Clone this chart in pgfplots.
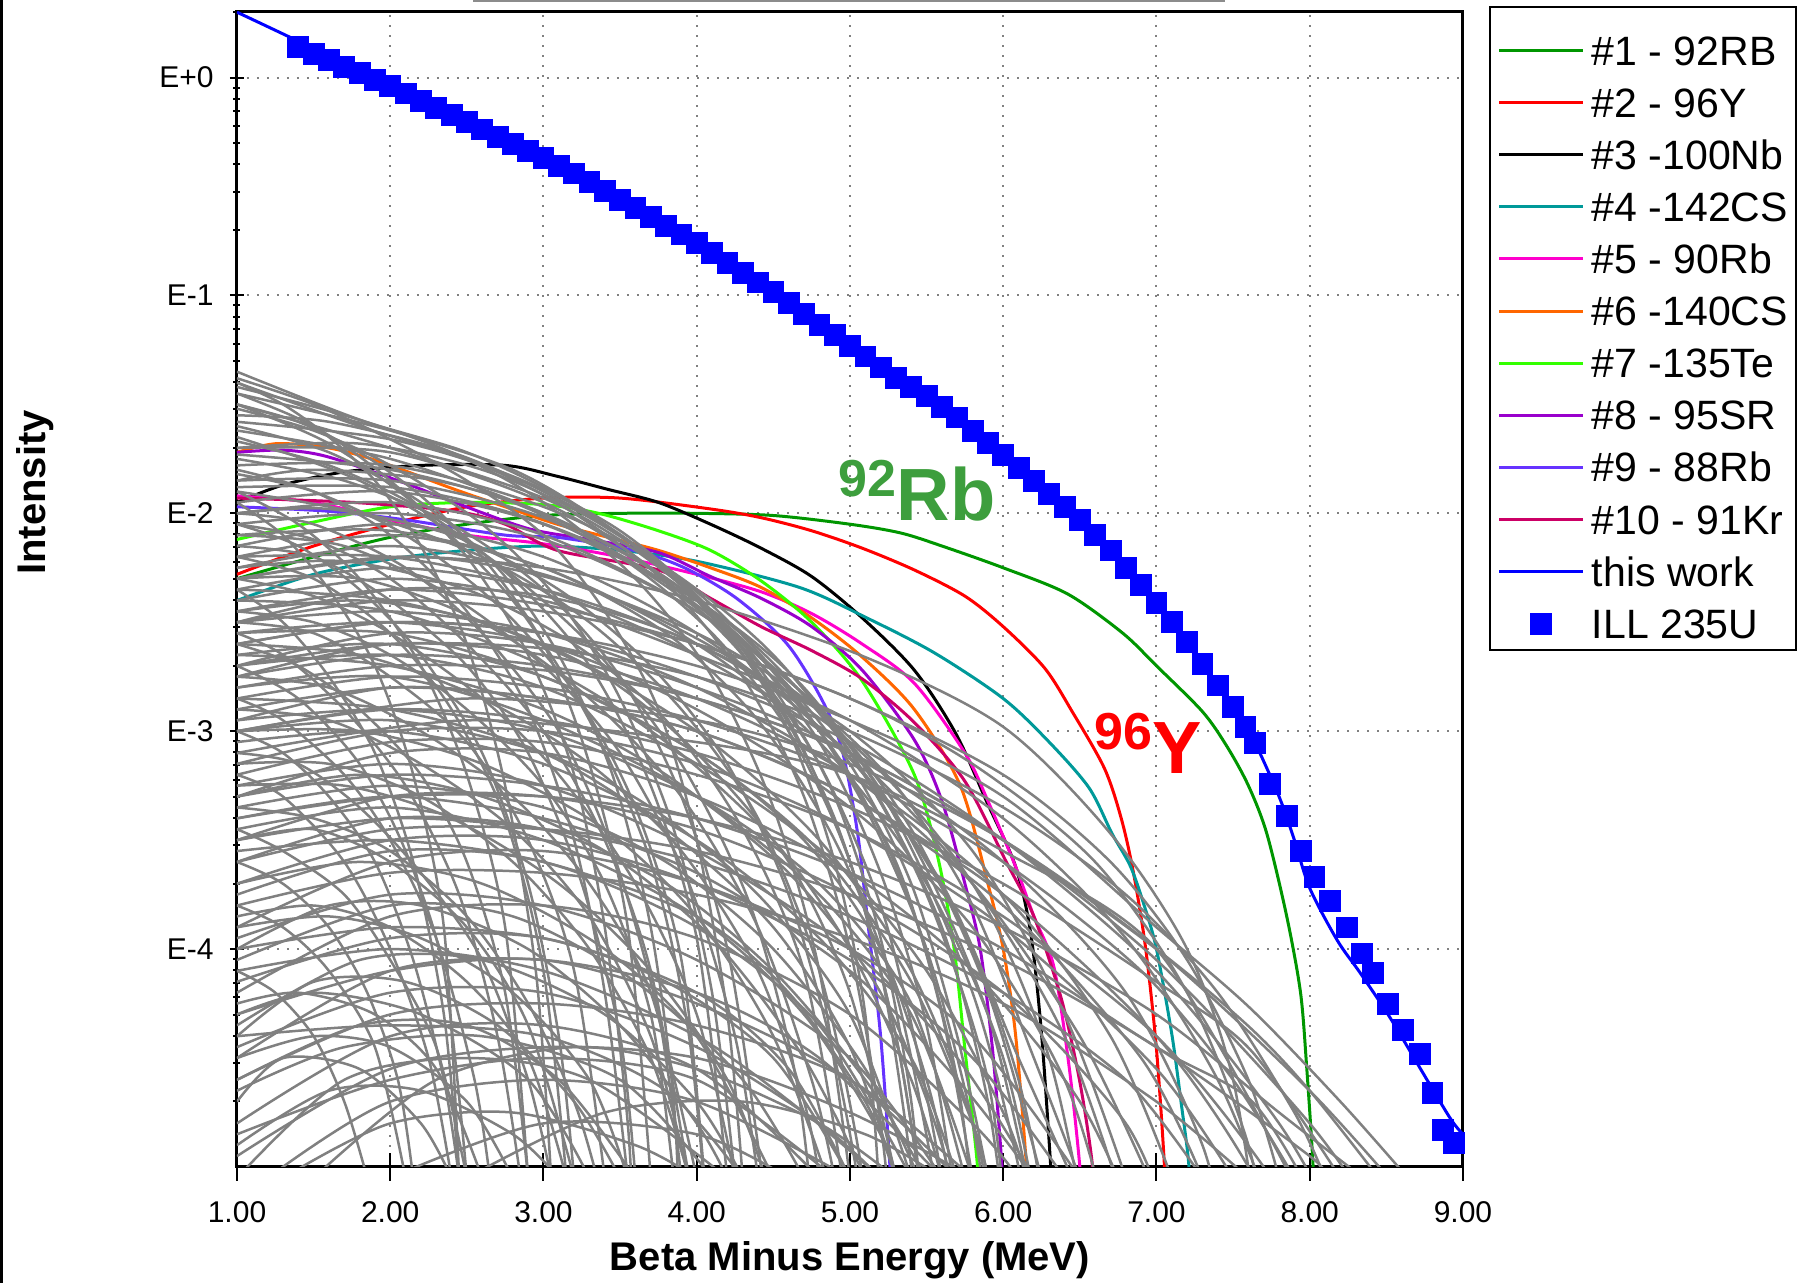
\documentclass[border=0pt]{standalone}
\usepackage{pgfplots}
\pgfplotsset{compat=1.18}
\usepackage{fontspec}
\setmainfont{Liberation Sans}
\definecolor{c1}{RGB}{0,150,0}
\definecolor{c2}{RGB}{255,0,0}
\definecolor{c3}{RGB}{0,0,0}
\definecolor{c4}{RGB}{0,153,153}
\definecolor{c5}{RGB}{255,0,204}
\definecolor{c6}{RGB}{255,102,0}
\definecolor{c7}{RGB}{51,255,0}
\definecolor{c8}{RGB}{153,0,204}
\definecolor{c9}{RGB}{102,51,255}
\definecolor{c10}{RGB}{204,0,102}
\definecolor{rbgreen}{RGB}{61,158,61}
\definecolor{gline}{RGB}{128,128,128}
\definecolor{ublue}{RGB}{0,0,255}
% y values are log10(intensity): the axis labels E+0, E-1, ... are the exponents
\pgfplotsset{
  gr/.style={color=gline, line width=1.25pt, smooth, tension=0.5, forget plot},
  cl/.style={line width=1.5pt, smooth, tension=0.5},
  illleg/.style={legend image code/.code={\draw[##1, mark size=5pt] plot coordinates {(21pt,-4.2pt)};}},
}
\newcommand{\g}[1]{\addplot[gr] coordinates {#1};}
\begin{document}
\begin{tikzpicture}
\path[use as bounding box] (-118.5pt,-58pt) rectangle (784.5pt,583.5pt);
\draw[line width=1.5pt] (-117.5pt,-58pt) -- (-117.5pt,583.5pt);
\draw[line width=1pt, black!45] (118pt,583pt) -- (494pt,583pt);
\begin{axis}[
  scale only axis, width=613pt, height=577.5pt,
  xmin=1, xmax=9, ymin=-5, ymax=0.30103,
  xtick={1,2,3,4,5,6,7,8,9},
  xticklabels={1.00,2.00,3.00,4.00,5.00,6.00,7.00,8.00,9.00},
  ytick={0,-1,-2,-3,-4},
  yticklabels={E+0,E-1,E-2,E-3,E-4},
  minor ytick={-4.699,-4.523,-4.398,-4.301,-4.222,-4.155,-4.097,-4.046,
    -3.699,-3.523,-3.398,-3.301,-3.222,-3.155,-3.097,-3.046,
    -2.699,-2.523,-2.398,-2.301,-2.222,-2.155,-2.097,-2.046,
    -1.699,-1.523,-1.398,-1.301,-1.222,-1.155,-1.097,-1.046,
    -0.699,-0.523,-0.398,-0.301,-0.222,-0.155,-0.097,-0.046,0.301},
  tick pos=left, tick align=center,
  major tick length=7pt, minor tick length=3.5pt,
  xtick style={/pgfplots/major tick length=14pt},
  tick style={black, line width=1pt},
  axis line style={line width=1.5pt},
  xmajorgrids, ymajorgrids,
  grid style={black!50, line width=1pt, dash pattern=on 1pt off 4pt},
  ticklabel style={font=\fontsize{15}{15}\selectfont},
  xticklabel style={anchor=base, yshift=-24.5pt},
  yticklabel style={anchor=east, xshift=-8pt, inner sep=0pt},
  xlabel={Beta Minus Energy (MeV)},
  ylabel={Intensity},
  xlabel style={at={(axis description cs:0.5,-0.0892)}, anchor=base, font=\bfseries\fontsize{20}{20}\selectfont},
  ylabel style={at={(axis description cs:-0.1558,0.584)}, anchor=base, font=\bfseries\fontsize{20}{20}\selectfont},
  legend style={at={(1.0212,1.0049)}, anchor=north west, draw=black, line width=1pt, fill=white,
    inner xsep=4pt, inner ysep=4.4pt, row sep=0pt, column sep=3.5pt,
    font=\fontsize{20.5}{20.5}\selectfont,
    nodes={inner sep=0pt, text height=24.5pt, text depth=1.55pt}},
  legend cell align=left,
  legend image code/.code={\draw[#1] (0pt,-4.2pt) -- (42pt,-4.2pt);},
]
% ---- ten main contributors
\addplot[cl, c1] coordinates {(1.0,-2.30) (1.5,-2.20) (2.0,-2.11) (2.5,-2.05) (3.0,-2.01) (3.5,-2.0) (4.0,-2.0) (4.5,-2.01) (5.0,-2.05) (5.33,-2.09) (5.6,-2.15) (6.0,-2.25) (6.42,-2.37) (6.78,-2.55) (7.0,-2.70) (7.3,-2.91) (7.46,-3.07) (7.6,-3.25) (7.72,-3.47) (7.85,-3.85) (7.94,-4.20) (7.98,-4.54) (8.02,-4.97) (8.03,-5.2)};
\addlegendentry{\#1 - 92RB}
\addplot[cl, c2] coordinates {(1.0,-2.28) (1.5,-2.15) (2.0,-2.05) (2.5,-1.97) (3.0,-1.93) (3.5,-1.93) (4.09,-1.98) (4.42,-2.02) (4.75,-2.08) (5.08,-2.16) (5.42,-2.26) (5.75,-2.38) (6.0,-2.52) (6.27,-2.71) (6.45,-2.91) (6.66,-3.17) (6.77,-3.40) (6.85,-3.65) (6.93,-4.0) (7.0,-4.46) (7.05,-4.97) (7.06,-5.2)};
\addlegendentry{\#2 - 96Y}
\addplot[cl, c3] coordinates {(1.0,-1.95) (1.3,-1.87) (1.7,-1.81) (2.2,-1.78) (2.75,-1.78) (3.09,-1.83) (3.42,-1.89) (3.75,-1.95) (4.09,-2.05) (4.42,-2.16) (4.75,-2.29) (5.08,-2.48) (5.42,-2.72) (5.69,-3.01) (5.89,-3.32) (6.08,-3.62) (6.18,-3.93) (6.25,-4.39) (6.31,-5.0) (6.32,-5.2)};
\addlegendentry{\#3 -100Nb}
\addplot[cl, c4] coordinates {(1.0,-2.40) (1.5,-2.28) (2.0,-2.21) (2.5,-2.17) (3.0,-2.15) (3.5,-2.17) (4.0,-2.22) (4.67,-2.34) (5.11,-2.48) (5.55,-2.64) (6.0,-2.85) (6.3,-3.05) (6.56,-3.26) (6.71,-3.47) (6.83,-3.62) (6.92,-3.8) (7.0,-4.0) (7.10,-4.39) (7.16,-4.7) (7.21,-4.98) (7.22,-5.2)};
\addlegendentry{\#4 -142CS}
\addplot[cl, c5] coordinates {(1.0,-1.92) (1.5,-1.95) (2.0,-2.03) (2.5,-2.10) (3.0,-2.14) (3.5,-2.20) (4.0,-2.28) (4.42,-2.36) (4.75,-2.46) (5.08,-2.60) (5.42,-2.78) (5.75,-3.10) (5.9,-3.32) (6.08,-3.62) (6.2,-3.85) (6.33,-4.08) (6.43,-4.54) (6.50,-5.0) (6.51,-5.2)};
\addlegendentry{\#5 - 90Rb}
\addplot[cl, c6] coordinates {(1.0,-1.72) (1.26,-1.68) (1.6,-1.70) (1.92,-1.76) (2.42,-1.89) (2.75,-1.97) (3.09,-2.05) (3.42,-2.11) (3.75,-2.17) (4.09,-2.25) (4.42,-2.34) (4.75,-2.48) (5.08,-2.66) (5.42,-2.90) (5.72,-3.25) (5.90,-3.70) (6.0,-4.0) (6.08,-4.39) (6.15,-4.98) (6.16,-5.2)};
\addlegendentry{\#6 -140CS}
\addplot[cl, c7] coordinates {(1.0,-2.12) (1.5,-2.04) (2.0,-1.97) (2.5,-1.95) (3.0,-1.96) (3.36,-2.0) (3.75,-2.08) (4.09,-2.17) (4.42,-2.31) (4.75,-2.50) (5.08,-2.77) (5.42,-3.2) (5.58,-3.6) (5.68,-4.0) (5.75,-4.46) (5.83,-4.98) (5.84,-5.2)};
\addlegendentry{\#7 -135Te}
\addplot[cl, c8] coordinates {(1.0,-1.72) (1.3,-1.71) (1.59,-1.74) (2.09,-1.86) (2.42,-1.95) (2.9,-2.07) (3.3,-2.12) (3.75,-2.18) (4.09,-2.29) (4.42,-2.39) (4.75,-2.52) (5.08,-2.72) (5.42,-3.04) (5.6,-3.32) (5.75,-3.70) (5.85,-4.0) (5.93,-4.46) (5.99,-4.98) (6.0,-5.2)};
\addlegendentry{\#8 - 95SR}
\addplot[cl, c9] coordinates {(1.0,-1.97) (1.59,-1.99) (2.1,-2.03) (2.75,-2.10) (3.09,-2.11) (3.59,-2.17) (3.92,-2.25) (4.26,-2.39) (4.59,-2.60) (4.82,-2.86) (4.95,-3.09) (5.05,-3.47) (5.12,-3.9) (5.2,-4.4) (5.26,-4.99) (5.27,-5.2)};
\addlegendentry{\#9 - 88Rb}
\addplot[cl, c10] coordinates {(1.0,-1.93) (1.76,-1.95) (2.42,-1.99) (2.75,-2.05) (3.09,-2.17) (3.75,-2.26) (4.09,-2.39) (4.42,-2.52) (4.75,-2.63) (5.08,-2.76) (5.42,-2.96) (5.75,-3.23) (6.02,-3.6) (6.2,-3.85) (6.38,-4.23) (6.50,-4.61) (6.58,-4.98) (6.59,-5.2)};
\addlegendentry{\#10 - 91Kr}
% ---- all other fission products (grey)
\g{(1,-1.35) (1.8,-1.57) (2.5,-1.72) (3.1,-1.92) (3.7,-2.2) (4.2,-2.55) (4.6,-3.0) (4.9,-3.6) (5.1,-4.3) (5.2,-5.2)}
\g{(1,-1.40) (1.8,-1.60) (2.6,-1.78) (3.2,-2.0) (3.8,-2.32) (4.3,-2.75) (4.7,-3.3) (5.0,-4.0) (5.2,-4.8) (5.3,-5.5)}
\g{(1,-1.45) (2,-1.62) (2.8,-1.80) (3.4,-2.05) (4.0,-2.4) (4.5,-2.85) (4.9,-3.4) (5.2,-4.1) (5.4,-5.0) (5.45,-5.5)}
\g{(1,-1.50) (2,-1.70) (3,-1.93) (3.6,-2.17) (4.2,-2.52) (4.8,-3.05) (5.2,-3.65) (5.5,-4.35) (5.7,-5.2)}
\g{(1,-1.55) (1.6,-1.58) (2.4,-1.72) (3.0,-1.90) (3.5,-2.1) (4.0,-2.38) (4.5,-2.8) (4.9,-3.3) (5.2,-3.95) (5.4,-4.7) (5.5,-5.5)}
\g{(1,-1.62) (2,-1.75) (3,-2.0) (3.8,-2.3) (4.4,-2.65) (5.0,-3.2) (5.4,-3.8) (5.7,-4.6) (5.85,-5.5)}
\g{(1,-1.70) (1.8,-1.68) (2.6,-1.80) (3.3,-2.02) (4.0,-2.36) (4.6,-2.8) (5.1,-3.35) (5.5,-4.0) (5.8,-4.8) (5.95,-5.5)}
\g{(1,-1.78) (2,-1.78) (3,-1.97) (3.8,-2.25) (4.5,-2.65) (5.1,-3.2) (5.6,-3.9) (5.9,-4.7) (6.05,-5.5)}
\g{(1,-1.85) (1.5,-1.80) (2.3,-1.85) (3.0,-2.0) (3.7,-2.25) (4.4,-2.62) (5.0,-3.1) (5.5,-3.75) (5.9,-4.6) (6.05,-5.5)}
\g{(1,-1.95) (2,-1.90) (3,-2.05) (4,-2.4) (4.7,-2.8) (5.3,-3.4) (5.8,-4.2) (6.1,-5.0) (6.2,-5.5)}
\g{(1,-2.05) (2,-2.0) (3,-2.12) (4,-2.45) (4.8,-2.9) (5.4,-3.5) (5.9,-4.3) (6.2,-5.2)}
\g{(1,-1.9) (1.8,-2.0) (2.6,-2.2) (3.3,-2.5) (3.9,-2.9) (4.4,-3.4) (4.8,-4.1) (5.05,-4.9) (5.15,-5.5)}
\g{(1,-1.75) (1.7,-1.85) (2.4,-2.05) (3.0,-2.35) (3.5,-2.75) (3.9,-3.3) (4.2,-4.0) (4.4,-4.9) (4.5,-5.5)}
\g{(1,-1.6) (1.6,-1.72) (2.2,-1.95) (2.7,-2.25) (3.1,-2.65) (3.45,-3.2) (3.7,-3.9) (3.85,-4.7) (3.9,-5.5)}
\g{(1,-1.45) (1.5,-1.6) (2.0,-1.85) (2.5,-2.2) (2.9,-2.65) (3.2,-3.2) (3.4,-3.9) (3.55,-4.8) (3.6,-5.5)}
\g{(1,-1.5) (1.6,-1.68) (2.2,-1.98) (2.8,-2.4) (3.3,-2.95) (3.7,-3.6) (3.95,-4.4) (4.1,-5.5)}
\g{(1,-1.65) (1.8,-1.85) (2.6,-2.18) (3.3,-2.6) (3.9,-3.15) (4.35,-3.8) (4.65,-4.6) (4.8,-5.5)}
\g{(1,-2.2) (2,-2.1) (3,-2.25) (4,-2.6) (4.8,-3.05) (5.5,-3.7) (6.0,-4.5) (6.3,-5.5)}
\g{(1,-2.3) (2.2,-2.2) (3.3,-2.35) (4.3,-2.7) (5.1,-3.2) (5.7,-3.85) (6.1,-4.6) (6.35,-5.5)}
\g{(1,-2.5) (2,-2.35) (3,-2.38) (4,-2.6) (5,-3.05) (5.8,-3.7) (6.3,-4.5) (6.6,-5.5)}
\g{(1,-2.4) (2,-2.3) (3,-2.4) (4,-2.65) (5,-2.95) (6,-3.4) (6.8,-3.95) (7.4,-4.6) (7.8,-5.3)}
\g{(1,-2.6) (2,-2.5) (3,-2.55) (4,-2.75) (5,-3.05) (6,-3.5) (7,-4.1) (7.8,-4.8) (8.2,-5.3)}
\g{(1,-2.8) (2,-2.7) (3,-2.72) (4,-2.85) (5,-3.1) (6,-3.5) (7,-4.05) (8,-4.8) (8.5,-5.3)}
\g{(1,-3.0) (2.5,-2.85) (4,-2.95) (5,-3.15) (6,-3.5) (7,-4.0) (8,-4.65) (8.7,-5.2)}
\g{(1,-2.9) (2,-2.8) (3,-2.85) (4,-3.0) (5,-3.3) (6,-3.75) (7,-4.4) (7.6,-5.0) (7.9,-5.5)}
\g{(1,-3.2) (2,-3.05) (3,-3.05) (4,-3.2) (5,-3.45) (6,-3.85) (7,-4.4) (7.7,-5.0) (8.0,-5.4)}
\g{(1,-2.3) (2,-2.2) (3,-2.25) (4,-2.4) (5.1,-2.66) (6.0,-2.98) (6.7,-3.47) (7.2,-4.0) (7.5,-4.6) (7.7,-5.5)}
\g{(1,-2.45) (2,-2.35) (3,-2.42) (4,-2.6) (5,-2.85) (5.8,-3.15) (6.6,-3.6) (7.2,-4.2) (7.6,-4.9) (7.75,-5.5)}
\g{(1,-2.7) (2,-2.55) (3,-2.6) (4,-2.8) (5,-3.1) (6,-3.6) (6.8,-4.2) (7.3,-4.9) (7.5,-5.5)}
\g{(1,-2.2) (2,-2.2) (3,-2.35) (4,-2.65) (5,-3.1) (5.8,-3.7) (6.4,-4.4) (6.8,-5.2)}
\g{(1,-2.55) (2,-2.5) (3,-2.6) (4,-2.9) (5,-3.35) (5.8,-3.9) (6.4,-4.6) (6.7,-5.3)}
\g{(1,-2.35) (2,-2.4) (3,-2.6) (4,-3.0) (4.8,-3.5) (5.4,-4.1) (5.8,-4.8) (6.0,-5.5)}
\g{(1,-2.65) (2,-2.7) (3,-2.9) (3.8,-3.2) (4.6,-3.65) (5.2,-4.2) (5.6,-4.9) (5.75,-5.5)}
\g{(1,-3.3) (2,-3.1) (3,-3.1) (4,-3.3) (5,-3.65) (5.8,-4.1) (6.5,-4.7) (6.9,-5.3)}
\g{(1,-3.5) (2,-3.3) (3,-3.3) (4,-3.45) (5,-3.75) (6,-4.2) (6.8,-4.8) (7.1,-5.3)}
\g{(1,-2.6) (2,-2.5) (3,-2.55) (4,-2.7) (5,-2.95) (6,-3.3) (7,-3.9) (7.61,-4.27) (8.2,-4.7) (8.64,-5.05)}
\g{(1,-2.75) (2,-2.65) (3,-2.7) (4,-2.85) (5,-3.1) (6,-3.5) (7,-4.0) (7.61,-4.36) (8.0,-4.65) (8.45,-5.05)}
\g{(1,-3.0) (2,-2.9) (3,-2.95) (4,-3.1) (5,-3.35) (6,-3.7) (7,-4.15) (7.61,-4.46) (8.2,-5.05)}
\g{(1,-3.3) (2,-3.2) (3,-3.25) (4,-3.4) (5,-3.65) (6,-4.0) (7,-4.45) (7.61,-4.69) (7.95,-5.05)}
\g{(1,-3.1) (2.5,-2.95) (4,-3.05) (5,-3.2) (6,-3.55) (7,-4.0) (7.88,-5.05)}
\g{(1,-3.6) (2,-3.45) (3,-3.45) (4,-3.55) (5,-3.75) (6,-4.05) (7,-4.45) (8,-4.95) (8.1,-5.05)}
\g{(1,-3.8) (2,-3.65) (3,-3.65) (4,-3.75) (5,-3.95) (6,-4.25) (7,-4.7) (7.6,-5.05)}
\g{(1,-3.9) (2,-3.6) (3,-3.55) (4,-3.7) (5,-4.0) (5.8,-4.4) (6.5,-5.05)}
\g{(1,-4.2) (2,-3.85) (3,-3.8) (4,-3.95) (5,-4.3) (5.8,-4.8) (6.1,-5.05)}
\g{(1,-4.5) (2,-4.1) (3,-4.05) (4,-4.2) (4.8,-4.5) (5.6,-5.05)}
\g{(1,-4.8) (2,-4.4) (3,-4.35) (4,-4.55) (4.8,-5.05)}
\g{(1,-5.05) (1.7,-4.6) (2.5,-4.5) (3.3,-4.6) (4.2,-5.05)}
\g{(1,-3.6) (2,-3.4) (3,-3.45) (3.8,-3.7) (4.5,-4.1) (5.1,-4.6) (5.5,-5.05)}
\g{(1,-3.3) (1.8,-3.2) (2.6,-3.3) (3.4,-3.55) (4.1,-3.95) (4.7,-4.5) (5.1,-5.05)}
\g{(1,-3.0) (1.8,-3.0) (2.6,-3.15) (3.4,-3.45) (4.0,-3.85) (4.5,-4.4) (4.85,-5.05)}
\g{(1,-2.9) (1.6,-2.95) (2.2,-3.15) (2.8,-3.45) (3.3,-3.85) (3.7,-4.4) (3.95,-5.05)}
\g{(1,-4.0) (1.6,-3.8) (2.2,-3.8) (2.9,-4.0) (3.5,-4.35) (4.0,-4.8) (4.2,-5.05)}
\g{(1,-4.4) (1.5,-4.15) (2.1,-4.15) (2.7,-4.35) (3.2,-4.7) (3.5,-5.05)}
\g{(1,-3.5) (1.5,-3.45) (2.0,-3.6) (2.5,-3.9) (2.9,-4.35) (3.2,-5.05)}
\g{(1,-2.5) (1.5,-2.55) (2.0,-2.75) (2.5,-3.05) (2.9,-3.5) (3.2,-4.1) (3.4,-5.05)}
\g{(1,-2.2) (1.5,-2.3) (2,-2.55) (2.4,-2.9) (2.75,-3.4) (3.0,-4.1) (3.15,-5.05)}
\g{(1,-1.9) (1.4,-2.05) (1.8,-2.3) (2.2,-2.7) (2.5,-3.2) (2.75,-3.9) (2.9,-5.05)}
\g{(1,-3.2) (1.3,-3.3) (1.7,-3.6) (2.0,-4.0) (2.25,-4.5) (2.4,-5.05)}
\g{(1,-2.7) (1.4,-2.85) (1.8,-3.15) (2.1,-3.55) (2.35,-4.1) (2.5,-5.05)}
\g{(1,-4.7) (1.3,-4.5) (1.8,-4.55) (2.2,-4.8) (2.4,-5.05)}
\g{(1,-4.3) (1.5,-4.2) (2.2,-4.3) (2.9,-4.6) (3.3,-5.05)}
\g{(1,-3.7) (1.8,-3.6) (2.6,-3.7) (3.4,-4.0) (4.0,-4.4) (4.5,-5.05)}
\g{(1,-4.1) (2,-4.0) (3,-4.1) (4,-4.4) (4.7,-4.75) (5.2,-5.05)}
\g{(1,-4.6) (2,-4.3) (3,-4.25) (4,-4.35) (5,-4.6) (5.8,-5.05)}
\g{(1.2,-5.05) (2,-4.7) (3,-4.6) (4,-4.7) (5,-5.05)}
\g{(2,-5.05) (3,-4.8) (4,-4.85) (4.6,-5.05)}
\g{(1,-3.4) (2,-3.3) (3,-3.4) (4,-3.65) (5,-4.1) (5.7,-4.6) (6.2,-5.05)}
\g{(1,-2.8) (2,-2.75) (3,-2.95) (4,-3.3) (4.8,-3.75) (5.4,-4.3) (5.8,-5.05)}
\g{(1,-2.3) (1.8,-2.3) (2.6,-2.5) (3.3,-2.85) (3.9,-3.3) (4.4,-3.9) (4.75,-4.6) (4.9,-5.05)}
\g{(1,-2.1) (1.7,-2.15) (2.4,-2.38) (3.0,-2.7) (3.5,-3.1) (3.95,-3.7) (4.25,-4.4) (4.4,-5.05)}
\g{(1,-2.0) (1.5,-2.05) (2.1,-2.25) (2.6,-2.55) (3.1,-3.0) (3.45,-3.55) (3.75,-4.3) (3.9,-5.05)}
\g{(1,-1.8) (1.5,-1.9) (2.0,-2.1) (2.5,-2.45) (2.9,-2.9) (3.2,-3.5) (3.4,-4.2) (3.55,-5.05)}
\g{(1,-2.0) (2,-1.95) (3,-2.1) (4,-2.45) (4.8,-2.9) (5.4,-3.45) (5.9,-4.2) (6.25,-5.05)}
\g{(1,-2.15) (2,-2.05) (3,-2.2) (4,-2.55) (4.9,-3.05) (5.6,-3.7) (6.1,-4.5) (6.45,-5.05)}
\g{(1,-2.35) (2,-2.25) (3,-2.35) (4,-2.6) (5,-3.0) (5.8,-3.55) (6.4,-4.3) (6.8,-5.05)}
\g{(1,-2.5) (2,-2.45) (3,-2.55) (4,-2.8) (5,-3.2) (5.8,-3.7) (6.5,-4.4) (6.95,-5.05)}
\g{(1,-2.75) (2,-2.6) (3,-2.65) (4,-2.85) (5,-3.2) (6,-3.75) (6.7,-4.4) (7.1,-5.05)}
\g{(1,-2.95) (2,-2.8) (3,-2.85) (4,-3.0) (5,-3.3) (6,-3.8) (6.9,-4.5) (7.3,-5.05)}
\g{(1,-3.15) (2,-3.0) (3,-3.0) (4,-3.15) (5,-3.45) (6,-3.9) (7,-4.55) (7.5,-5.05)}
\g{(1,-2.25) (2,-2.15) (3,-2.28) (4,-2.55) (4.7,-2.85) (5.3,-3.25) (5.8,-3.8) (6.2,-4.5) (6.5,-5.05)}
\g{(1,-1.85) (2,-1.85) (3,-2.02) (3.8,-2.32) (4.5,-2.72) (5.0,-3.15) (5.4,-3.7) (5.7,-4.4) (5.9,-5.05)}
\g{(1,-1.7) (2,-1.72) (3,-1.95) (3.7,-2.25) (4.3,-2.65) (4.8,-3.15) (5.2,-3.8) (5.45,-4.5) (5.6,-5.05)}
\g{(1,-2.6) (1.8,-2.65) (2.6,-2.85) (3.3,-3.15) (3.9,-3.55) (4.4,-4.1) (4.7,-4.7) (4.8,-5.05)}
\g{(1,-2.85) (2,-2.9) (3,-3.1) (3.8,-3.45) (4.5,-3.9) (5.0,-4.45) (5.3,-5.05)}
\g{(1,-3.05) (2,-3.0) (3,-3.15) (4,-3.5) (4.8,-3.95) (5.4,-4.5) (5.7,-5.05)}
\g{(1,-3.45) (2,-3.35) (3,-3.5) (4,-3.85) (4.7,-4.3) (5.2,-4.85) (5.3,-5.05)}
\g{(1,-3.75) (2,-3.55) (3,-3.6) (4,-3.9) (4.8,-4.35) (5.4,-5.05)}
\g{(1,-4.05) (2,-3.8) (2.8,-3.85) (3.6,-4.15) (4.3,-4.6) (4.7,-5.05)}
\g{(1,-4.35) (1.8,-4.05) (2.6,-4.05) (3.4,-4.3) (4.0,-4.7) (4.3,-5.05)}
\g{(1,-4.6) (1.8,-4.35) (2.5,-4.35) (3.1,-4.6) (3.6,-5.05)}
\g{(1,-4.9) (1.6,-4.65) (2.2,-4.65) (2.8,-4.85) (3.1,-5.05)}
\g{(1,-3.15) (1.6,-3.15) (2.2,-3.3) (2.8,-3.6) (3.3,-4.0) (3.7,-4.5) (3.95,-5.05)}
\g{(1,-3.35) (1.5,-3.4) (2.0,-3.55) (2.5,-3.85) (2.9,-4.25) (3.2,-4.7) (3.35,-5.05)}
\g{(1,-3.85) (1.5,-3.8) (2.0,-3.9) (2.5,-4.15) (2.9,-4.5) (3.15,-5.05)}
\g{(1,-4.25) (1.4,-4.2) (1.9,-4.3) (2.3,-4.55) (2.6,-5.05)}
\g{(1,-2.45) (1.5,-2.5) (2,-2.65) (2.5,-2.9) (3,-3.25) (3.4,-3.7) (3.7,-4.3) (3.85,-5.05)}
\g{(1,-2.15) (1.5,-2.2) (2,-2.4) (2.5,-2.7) (2.9,-3.1) (3.25,-3.7) (3.5,-4.4) (3.6,-5.05)}
\g{(1,-2.05) (1.4,-2.15) (1.8,-2.35) (2.2,-2.65) (2.6,-3.1) (2.9,-3.7) (3.1,-4.4) (3.2,-5.05)}
\g{(1,-2.6) (1.4,-2.7) (1.8,-2.9) (2.2,-3.2) (2.5,-3.6) (2.75,-4.2) (2.9,-5.05)}
\g{(1,-3.0) (1.3,-3.1) (1.6,-3.3) (1.9,-3.6) (2.15,-4.05) (2.35,-4.6) (2.45,-5.05)}
\g{(1,-3.6) (1.3,-3.7) (1.6,-3.9) (1.85,-4.2) (2.05,-4.6) (2.15,-5.05)}
\g{(1,-4.1) (1.25,-4.2) (1.5,-4.4) (1.7,-4.7) (1.85,-5.05)}
\g{(1,-2.35) (1.3,-2.5) (1.6,-2.75) (1.9,-3.1) (2.15,-3.6) (2.35,-4.3) (2.45,-5.05)}
\g{(1,-1.95) (1.3,-2.1) (1.6,-2.35) (1.9,-2.7) (2.15,-3.2) (2.35,-3.9) (2.45,-5.05)}
\g{(1,-2.4) (2,-2.45) (3,-2.7) (3.8,-3.05) (4.5,-3.5) (5.0,-4.0) (5.4,-4.6) (5.6,-5.05)}
\g{(1,-2.65) (2,-2.6) (3,-2.75) (4,-3.1) (4.8,-3.55) (5.4,-4.15) (5.8,-4.8) (5.9,-5.05)}
\g{(1,-3.25) (2,-3.15) (3,-3.25) (4,-3.55) (5,-4.0) (5.7,-4.5) (6.2,-5.05)}
\g{(1,-3.95) (2,-3.75) (3,-3.8) (4,-4.05) (5,-4.5) (5.6,-5.05)}
\g{(1,-4.45) (2,-4.2) (3,-4.2) (4,-4.45) (4.8,-4.8) (5.2,-5.05)}
\g{(1.5,-5.05) (2.3,-4.6) (3.2,-4.45) (4.0,-4.55) (4.8,-4.8) (5.3,-5.05)}
\g{(2.5,-5.05) (3.4,-4.75) (4.3,-4.7) (5.1,-4.85) (5.6,-5.05)}
\g{(1,-4.95) (2,-4.55) (3,-4.45) (4,-4.5) (5,-4.75) (5.8,-5.05)}
\g{(1,-1.38) (1.5,-1.5) (2.0,-1.66) (2.5,-1.85) (3.0,-2.1) (3.4,-2.45) (3.75,-2.9) (4.0,-3.5) (4.2,-4.3) (4.3,-5.05)}
\g{(1,-1.42) (1.7,-1.55) (2.4,-1.72) (3.0,-1.95) (3.6,-2.3) (4.1,-2.75) (4.5,-3.35) (4.8,-4.1) (5.0,-5.05)}
\g{(1,-1.52) (1.5,-1.62) (2.0,-1.78) (2.6,-2.05) (3.1,-2.4) (3.5,-2.85) (3.85,-3.45) (4.1,-4.2) (4.25,-5.05)}
\g{(1,-1.58) (2,-1.66) (2.8,-1.83) (3.5,-2.08) (4.1,-2.45) (4.6,-2.95) (5.0,-3.6) (5.3,-4.4) (5.45,-5.05)}
\g{(1,-1.67) (1.6,-1.78) (2.2,-1.98) (2.8,-2.3) (3.3,-2.7) (3.7,-3.25) (4.0,-3.95) (4.2,-5.05)}
\g{(1,-1.73) (2,-1.8) (2.8,-1.95) (3.5,-2.2) (4.1,-2.55) (4.6,-3.0) (5.0,-3.6) (5.3,-4.4) (5.45,-5.05)}
\g{(1,-1.82) (1.5,-1.9) (2.1,-2.1) (2.7,-2.42) (3.2,-2.82) (3.6,-3.35) (3.9,-4.05) (4.05,-5.05)}
\g{(1,-1.88) (2,-1.88) (2.8,-2.0) (3.5,-2.2) (4.2,-2.55) (4.8,-3.0) (5.3,-3.6) (5.6,-4.3) (5.8,-5.05)}
\g{(1,-2.0) (1.6,-1.98) (2.4,-2.1) (3.1,-2.35) (3.7,-2.7) (4.2,-3.15) (4.6,-3.75) (4.9,-4.5) (5.05,-5.05)}
\g{(1,-2.1) (2,-2.08) (3,-2.25) (3.8,-2.55) (4.4,-2.95) (4.9,-3.5) (5.3,-4.2) (5.55,-5.05)}
\g{(1,-2.25) (1.7,-2.22) (2.5,-2.35) (3.2,-2.6) (3.8,-2.95) (4.3,-3.45) (4.7,-4.1) (4.95,-5.05)}
\g{(1,-2.45) (1.8,-2.4) (2.6,-2.5) (3.4,-2.75) (4.0,-3.1) (4.6,-3.6) (5.0,-4.2) (5.3,-5.05)}
\g{(1,-1.5) (1.4,-1.58) (1.8,-1.72) (2.2,-1.92) (2.6,-2.2) (3.0,-2.6) (3.3,-3.15) (3.55,-3.9) (3.7,-5.05)}
\g{(1,-1.4) (1.3,-1.5) (1.6,-1.65) (1.9,-1.85) (2.2,-2.15) (2.5,-2.6) (2.75,-3.25) (2.95,-4.1) (3.05,-5.05)}
\g{(1,-2.7) (2,-2.6) (3,-2.62) (4,-2.75) (5,-3.0) (6,-3.35) (6.8,-3.75) (7.4,-4.2) (7.9,-4.75) (8.1,-5.05)}
\g{(1,-3.4) (2,-3.3) (3,-3.3) (4,-3.4) (5,-3.6) (6,-3.9) (7,-4.3) (7.8,-4.75) (8.35,-5.05)}
\g{(1,-2.5) (2,-2.4) (3,-2.45) (4,-2.6) (5,-2.85) (6,-3.2) (6.7,-3.6) (7.2,-4.05) (7.6,-4.6) (7.8,-5.05)}
\g{(1,-3.5) (2,-3.4) (3,-3.45) (4,-3.6) (5,-3.85) (6,-4.2) (6.8,-4.6) (7.3,-5.05)}
\g{(1,-2.85) (2,-2.75) (3,-2.8) (4,-2.95) (5,-3.2) (6,-3.6) (6.9,-4.1) (7.5,-4.6) (7.9,-5.05)}
\g{(1,-2.55) (2,-2.55) (3,-2.75) (4,-3.1) (4.7,-3.5) (5.2,-4.0) (5.5,-4.6) (5.65,-5.05)}
\g{(1,-2.95) (2,-2.9) (3,-3.0) (4,-3.3) (4.8,-3.7) (5.4,-4.25) (5.75,-5.05)}
\g{(1,-3.55) (2,-3.5) (3,-3.6) (4,-3.85) (4.6,-4.2) (5.1,-4.7) (5.3,-5.05)}
\g{(1,-4.15) (2,-3.95) (3,-3.95) (4,-4.2) (4.6,-4.55) (5.0,-5.05)}
\g{(1,-4.65) (1.7,-4.45) (2.6,-4.4) (3.5,-4.6) (4.1,-5.05)}
\g{(1,-3.25) (1.7,-3.25) (2.4,-3.4) (3.1,-3.7) (3.7,-4.1) (4.2,-4.6) (4.45,-5.05)}
\g{(1,-2.75) (1.6,-2.8) (2.2,-3.0) (2.8,-3.3) (3.3,-3.7) (3.7,-4.2) (4.0,-5.05)}
\g{(1,-3.9) (1.6,-3.85) (2.2,-3.95) (2.8,-4.2) (3.3,-4.6) (3.55,-5.05)}
\g{(1,-4.5) (1.5,-4.4) (2.0,-4.45) (2.5,-4.7) (2.8,-5.05)}
\g{(1,-2.3) (1.5,-2.38) (2,-2.55) (2.6,-2.85) (3.1,-3.2) (3.6,-3.7) (4.0,-4.3) (4.25,-5.05)}
\g{(1,-3.7) (2,-3.5) (3,-3.5) (4,-3.7) (5,-4.05) (5.8,-4.5) (6.4,-5.05)}
\g{(1,-4.3) (2,-4.1) (3,-4.05) (4,-4.25) (5,-4.6) (5.7,-5.05)}
\g{(1,-4.85) (2,-4.6) (3,-4.5) (4,-4.6) (4.9,-5.05)}
\g{(1.3,-5.05) (2.0,-4.8) (2.8,-4.75) (3.6,-4.9) (4.0,-5.05)}
\g{(1,-3.1) (1.4,-3.15) (1.8,-3.35) (2.2,-3.65) (2.6,-4.05) (2.9,-4.6) (3.05,-5.05)}
\g{(1,-3.45) (1.3,-3.55) (1.7,-3.75) (2.0,-4.05) (2.3,-4.45) (2.5,-5.05)}
\g{(1,-3.8) (1.3,-3.9) (1.6,-4.1) (1.9,-4.45) (2.1,-5.05)}
\g{(1,-2.85) (1.3,-2.95) (1.7,-3.2) (2.0,-3.5) (2.3,-3.95) (2.55,-4.6) (2.65,-5.05)}
\g{(1,-2.55) (1.3,-2.65) (1.7,-2.9) (2.1,-3.25) (2.45,-3.75) (2.7,-4.4) (2.85,-5.05)}
\g{(1,-2.05) (1.5,-2.12) (2.0,-2.3) (2.5,-2.6) (3.0,-3.0) (3.4,-3.5) (3.7,-4.1) (3.95,-5.05)}
\g{(1,-3.0) (2,-2.95) (3,-3.1) (3.7,-3.35) (4.4,-3.75) (5.0,-4.3) (5.4,-5.05)}
\g{(1,-3.35) (2,-3.25) (3,-3.35) (3.8,-3.6) (4.5,-4.0) (5.1,-4.55) (5.45,-5.05)}
\g{(1,-4.0) (2,-3.9) (3,-3.95) (3.8,-4.15) (4.5,-4.5) (5.0,-5.05)}
\g{(1,-4.4) (2,-4.35) (3,-4.4) (3.8,-4.65) (4.3,-5.05)}
\g{(1,-2.7) (2,-2.65) (3,-2.8) (4,-3.15) (4.9,-3.6) (5.5,-4.1) (6.0,-4.75) (6.15,-5.05)}
% ---- sum and ILL data
\addplot[line width=1.5pt, ublue, smooth, tension=0.5] coordinates {(1.0,0.30) (1.42,0.16) (2.0,-0.04) (2.5,-0.205) (3.0,-0.37) (3.5,-0.56) (4.0,-0.76) (4.5,-0.985) (5.0,-1.23) (5.5,-1.46) (6.0,-1.73) (6.5,-2.03) (7.0,-2.41) (7.3,-2.69) (7.5,-2.89) (7.64,-3.05) (7.8,-3.30) (7.9,-3.50) (8.0,-3.72) (8.18,-3.96) (8.33,-4.11) (8.52,-4.31) (8.74,-4.57) (8.92,-4.78) (9.0,-4.85)};
\addlegendentry{this work}
\addplot[only marks, mark=square*, mark size=5.2pt, color=ublue, illleg] table {
x y
1.4 0.14
1.5 0.11
1.6 0.08
1.7 0.05
1.8 0.02
1.9 -0.01
2.0 -0.04
2.1 -0.073
2.2 -0.106
2.3 -0.139
2.4 -0.172
2.5 -0.205
2.6 -0.238
2.7 -0.271
2.8 -0.304
2.9 -0.337
3.0 -0.37
3.1 -0.405
3.2 -0.44
3.3 -0.48
3.4 -0.52
3.5 -0.56
3.6 -0.60
3.7 -0.64
3.8 -0.68
3.9 -0.72
4.0 -0.76
4.1 -0.805
4.2 -0.85
4.3 -0.895
4.4 -0.94
4.5 -0.985
4.6 -1.035
4.7 -1.085
4.8 -1.135
4.9 -1.18
5.0 -1.23
5.1 -1.28
5.2 -1.33
5.3 -1.38
5.4 -1.42
5.5 -1.46
5.6 -1.51
5.7 -1.56
5.8 -1.62
5.9 -1.675
6.0 -1.73
6.1 -1.79
6.2 -1.85
6.3 -1.91
6.4 -1.97
6.5 -2.03
6.6 -2.10
6.7 -2.17
6.8 -2.25
6.9 -2.33
7.0 -2.41
7.1 -2.50
7.2 -2.59
7.3 -2.69
7.4 -2.79
7.5 -2.89
7.58 -2.98
7.64 -3.055
7.74 -3.24
7.85 -3.39
7.94 -3.55
8.03 -3.67
8.13 -3.78
8.24 -3.90
8.34 -4.02
8.41 -4.11
8.51 -4.25
8.61 -4.37
8.72 -4.48
8.80 -4.66
8.87 -4.83
8.94 -4.89
};
\addlegendentry{ILL 235U}
% ---- annotations
\node[anchor=base west, inner sep=0pt, text=rbgreen, font=\bfseries] at (axis cs:4.925,-2.035)
  {\raisebox{12pt}{\fontsize{26}{26}\selectfont 92}\fontsize{37}{37}\selectfont Rb};
\node[anchor=base west, inner sep=0pt, text=c2, font=\bfseries] at (axis cs:6.595,-3.196)
  {\raisebox{12pt}{\fontsize{26}{26}\selectfont 96}\fontsize{37}{37}\selectfont Y};
\end{axis}
\end{tikzpicture}
\end{document}
